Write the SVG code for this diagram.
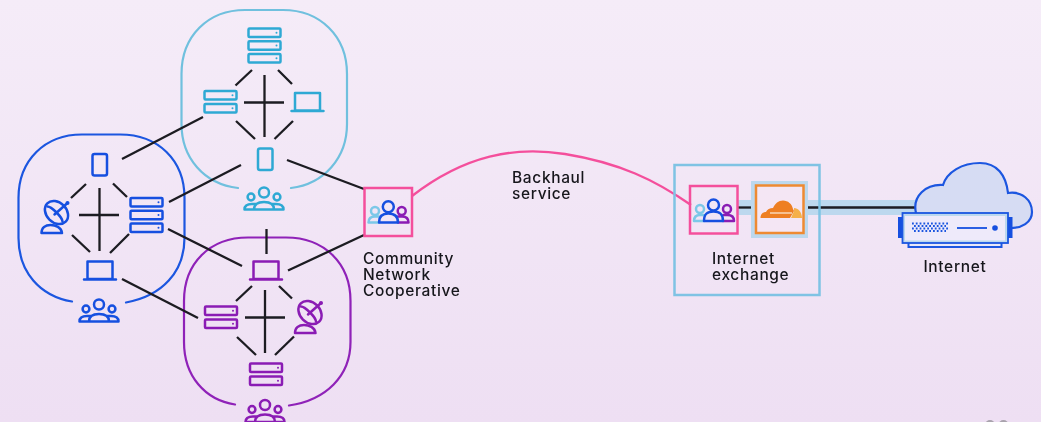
<svg xmlns="http://www.w3.org/2000/svg" width="1041" height="422" viewBox="0 0 1041 422">
<style>
.ic{fill:none;stroke:currentColor;stroke-width:2.500;stroke-linejoin:round;stroke-linecap:round}
.fd{fill:currentColor;stroke:none}
.cyan{color:#2fa9d4}.blue{color:#1450e0}.purple{color:#8a1cb4}.sky{color:#7cc8e8}
.ring{fill:none;stroke-width:2.200;stroke-linecap:round}
.conn line{stroke:#1b1b20;stroke-width:2.300}
.lbl{font-family:Inter,"Liberation Sans",sans-serif;font-size:15.500px;font-weight:500;letter-spacing:.65px;fill:#17171c}
.box{fill:none;stroke-width:2.500}
</style>
<defs>
<linearGradient id="bg" x1="0" y1="0" x2="0" y2="1"><stop offset="0" stop-color="#f5ecf8"/><stop offset="1" stop-color="#eedff3"/></linearGradient>
<filter id="soft" x="-2%" y="-2%" width="104%" height="104%"><feGaussianBlur stdDeviation="0.45"/></filter>
<g id="srv"><rect x="0" y="0" width="32" height="8.500" rx="1" class="ic"/><circle cx="28" cy="4.250" r="1" class="fd"/></g>
<g id="srv2"><use href="#srv"/><use href="#srv" y="13"/></g>
<g id="srv3"><use href="#srv"/><use href="#srv" y="12.800"/><use href="#srv" y="25.600"/></g>
<g id="laptop"><path class="ic" d="M3.500,0h25v17.500h-25zM0,18h32"/></g>
<g id="phone"><rect x="0" y="0" width="14.500" height="21.500" rx="2" class="ic"/></g>
<g id="users"><circle cx="0" cy="5" r="5" class="ic"/><circle cx="-13" cy="9.500" r="3.400" class="ic"/><circle cx="13" cy="9.500" r="3.400" class="ic"/><path class="ic" d="M-19.500,22H19.500M-10,22C-10,17-6,14.500 0,14.500S10,17 10,22M-19.500,22C-19.500,18-16,16.500-12,16.500H-8.500M19.500,22C19.500,18 16,16.500 12,16.500H8.500"/></g>
<g id="dish"><ellipse cx="0" cy="-3" rx="13" ry="10" transform="rotate(45 0 -3)" class="ic"/><path class="ic" d="M-9,-9C-5,-9 6,2 6,6M-2,-1L11,-12.500M-15,17.500C-15,12-11,9.500-6,9.500C-1,9.500 5,12 5.500,17.500Z"/><circle cx="11" cy="-12.500" r="2" class="fd"/></g>
</defs>
<g filter="url(#soft)">
<rect width="1041" height="422" fill="url(#bg)"/>

<g id="cluster-cyan" class="cyan">
<path class="ring" stroke="#6fc0de" d="M238,188C204,184 181.500,158 181.500,124V74C181.500,36 208,10 245,10H283C320,10 347,36 347,74V124C347,158 324,184 291,188"/>
<use href="#srv3" x="248.500" y="28.500"/><use href="#srv2" x="204.500" y="91"/><use href="#laptop" x="291.500" y="93"/><use href="#phone" x="258" y="148.500"/><use href="#users" x="264" y="187.500"/>
</g>
<g id="cluster-blue" class="blue">
<path class="ring" stroke="#1a56e0" d="M72,301.500C40,296 18.500,272 18.500,238V198C18.500,160 45,134.500 82,134.500H120C158,134.500 184.500,160 184.500,198V238C184.500,272 162,296 126,302.500"/>
<use href="#phone" x="92.500" y="154"/><use href="#dish" x="56.500" y="215.500"/><use href="#srv3" x="130.500" y="198"/><use href="#laptop" x="84" y="261.500"/><use href="#users" x="99" y="299.500"/>
</g>
<g id="cluster-purple" class="purple">
<path class="ring" stroke="#8f22b8" d="M235,404.500C205,400 184,376 184,342V301C184,263 210,237.500 248,237.500H286C324,237.500 350.500,263 350.500,301V342C350.500,376 326,400 289,405.500"/>
<use href="#laptop" x="250" y="261.500"/><use href="#srv2" x="205" y="306.500"/><use href="#dish" x="310" y="315.500"/><use href="#srv2" x="250" y="363.500"/><use href="#users" x="265" y="400"/>
</g>

<g id="connectors" class="conn">
<line x1="252" y1="70" x2="235.500" y2="85.500"/><line x1="278" y1="70" x2="292" y2="84"/><line x1="264.500" y1="75" x2="264.500" y2="137"/><line x1="244" y1="102.500" x2="284" y2="102.500"/><line x1="236" y1="121" x2="255" y2="139"/><line x1="293" y1="121" x2="274.500" y2="139"/>
<line x1="86" y1="184" x2="71" y2="198"/><line x1="113" y1="183.500" x2="127" y2="197"/><line x1="99.500" y1="188" x2="99.500" y2="251"/><line x1="79" y1="215" x2="119" y2="215"/><line x1="72" y1="235" x2="90" y2="252"/><line x1="129" y1="234" x2="110" y2="253"/>
<line x1="252" y1="286" x2="236" y2="301"/><line x1="279" y1="286" x2="292" y2="298.500"/><line x1="265" y1="290" x2="265" y2="353"/><line x1="245" y1="317.500" x2="285" y2="317.500"/><line x1="237" y1="337" x2="256" y2="355"/><line x1="294" y1="336.500" x2="275" y2="355"/>
<line x1="203" y1="117" x2="122" y2="159"/><line x1="241" y1="165" x2="169" y2="202"/><line x1="287" y1="160" x2="364" y2="189"/>
<line x1="168" y1="229" x2="242" y2="266"/><line x1="122" y1="279" x2="198" y2="318"/>
<line x1="266.500" y1="229" x2="266.500" y2="254"/><line x1="288" y1="270.500" x2="364" y2="235"/>
<path d="M412,196C465,155 515,146 565,154C620,163 655,180 691,205" fill="none" stroke="#f4509c" stroke-width="2.400"/>
<rect x="737" y="200" width="14" height="15" fill="#bcd8ee"/><rect x="808" y="200" width="107" height="15" fill="#bcd8ee"/>
<line x1="738" y1="207.500" x2="751" y2="207.500"/><line x1="808" y1="207.500" x2="915" y2="207.500"/>
</g>

<g id="community-network-cooperative">
<rect class="box" x="364.500" y="188" width="47.500" height="48" stroke="#f4509c"/>
<circle cx="375" cy="211" r="4" class="ic sky"/><path class="ic sky" d="M368.500,222.500C368.500,218.500 371,216.500 375,216.500H379M368.500,222.500H379"/>
<circle cx="401.700" cy="211" r="4" class="ic purple"/><path class="ic purple" d="M408.500,222.500C408.500,218.500 406,216.500 402,216.500H398M398,222.500H408.500"/>
<circle cx="388.300" cy="206.700" r="5.500" class="ic blue"/><path class="ic blue" d="M379,222.500C379,216 382,213.500 388.300,213.500S398,216 398,222.500Z"/>
<text class="lbl" x="363" y="264">Community</text><text class="lbl" x="363" y="280">Network</text><text class="lbl" x="363" y="296">Cooperative</text>
</g>
<g id="backhaul-label"><text class="lbl" x="512" y="183">Backhaul</text><text class="lbl" x="512" y="199">service</text></g>

<g id="internet-exchange">
<rect class="box" x="674.500" y="165" width="145" height="130" stroke="#7fc3e4"/>
<rect x="690" y="186" width="47.500" height="47.500" class="box" stroke="#f4509c"/>
<circle cx="700" cy="209" r="4" class="ic sky"/><path class="ic sky" d="M694,221C694,217 696,215 700,215H704M694,221H704"/>
<circle cx="727" cy="209" r="4" class="ic purple"/><path class="ic purple" d="M734,221C734,217 732,215 727.500,215H723.500M723,221H734"/>
<circle cx="713.500" cy="205" r="5.500" class="ic blue"/><path class="ic blue" d="M704,221C704,214 707,211.500 713.500,211.500S723,214 723,221Z"/>
<text class="lbl" x="712" y="264">Internet</text><text class="lbl" x="712" y="280">exchange</text>
</g>
<g id="cloudflare">
<rect x="751" y="181" width="57" height="57" fill="#bcd8ee"/>
<rect x="756" y="185.500" width="47.500" height="47.500" fill="#f4e6f4" stroke="#ee8a33" stroke-width="2.500"/>
<path fill="#ee7f22" d="M760.500,218C760.500,214 763,212 766,212C767,209.500 770,208 773,208C775,203.500 778.500,200.500 783,200.500C788,200.500 792,204 793,209L794,211L790,218Z"/>
<path fill="#f5b04a" d="M794,208C798,208 802,212 802,218H791L794,211Z"/>
<path d="M770,213H792" stroke="#fbe3cb" stroke-width="1.300"/>
</g>
<g id="internet">
<path fill="#d6dcf3" stroke="#1a56e0" stroke-width="2.200" d="M916,213C912,196 926,184 943,185C947,172 962,163 980,163C997,163 1006,175 1008,193C1022,191 1032,200 1032,212C1032,222 1022,229 1008,228L1000,240H917Z"/>
<rect x="898" y="217" width="4.500" height="21" fill="#1450e0"/><rect x="1008" y="217" width="4.500" height="21" fill="#1450e0"/>
<rect x="908.500" y="240" width="93" height="7" fill="#e8e8f8" stroke="#1a56e0" stroke-width="2"/>
<rect x="902.500" y="213" width="105.500" height="30" fill="#bcd8ee" stroke="#1a56e0" stroke-width="1.800"/>
<rect x="905" y="216" width="100" height="24.500" fill="#eeeafa"/>
<path d="M912,223.500h36M914,226h32M912,228.500h36M914,231h32" fill="none" stroke="#1a56e0" stroke-width="1.800" stroke-dasharray="1.800 2"/>
<path d="M957,228H987" stroke="#1450e0" stroke-width="1.800"/><circle cx="995" cy="228" r="2.800" fill="#1450e0"/>
<text class="lbl" x="923.500" y="272">Internet</text>
</g>
<circle cx="990" cy="425" r="5" fill="#a9a3ad"/><circle cx="1003.500" cy="425" r="5" fill="#a9a3ad"/>
</g>
</svg>
